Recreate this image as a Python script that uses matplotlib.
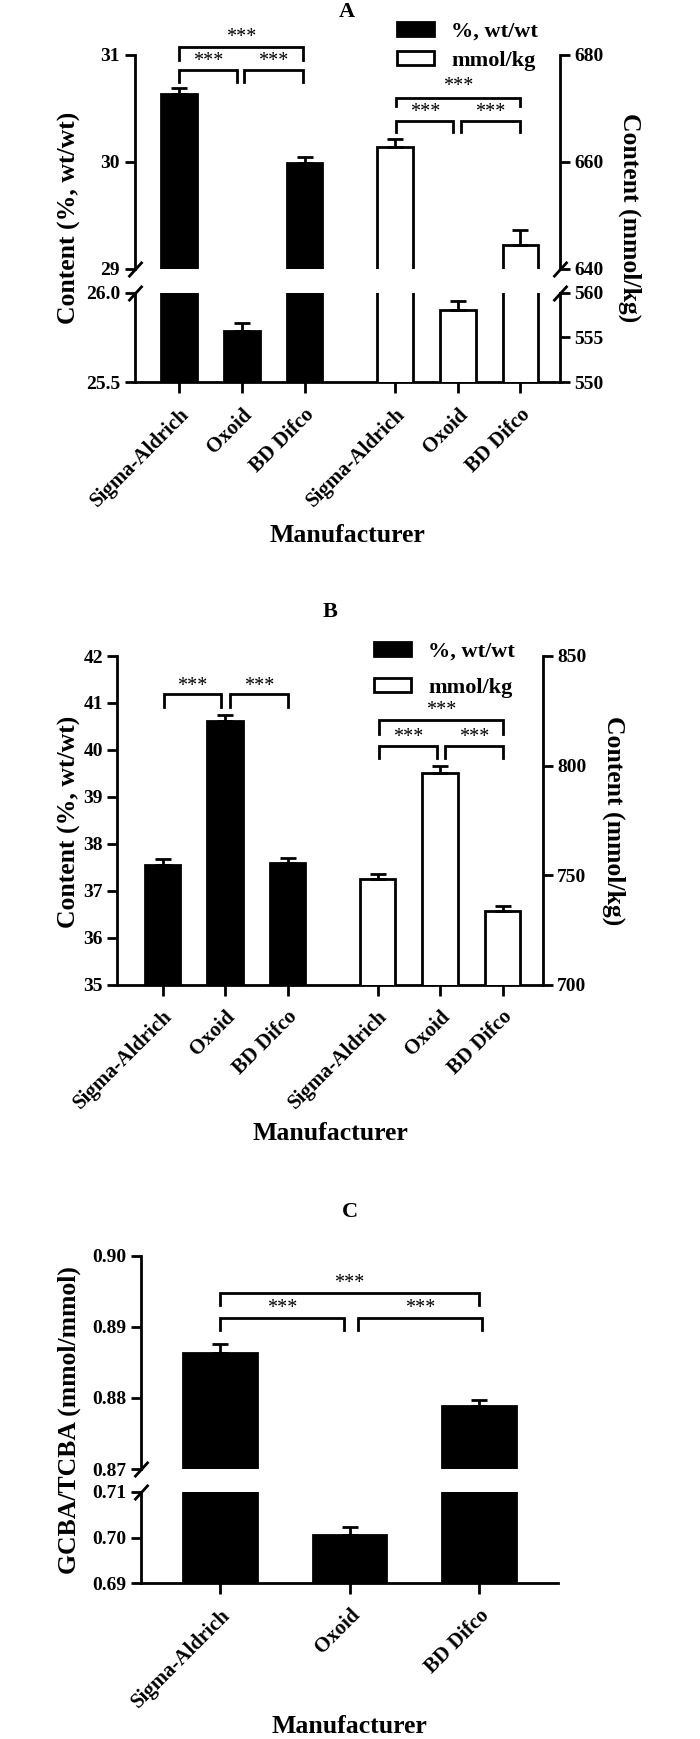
import numpy as np
import matplotlib
matplotlib.use("Agg")
import matplotlib.pyplot as plt
from matplotlib.patches import Patch

plt.rcParams['font.family'] = ['Liberation Serif', 'DejaVu Serif']
plt.rcParams['font.weight'] = 'bold'

# ---------------- data ----------------
manufacturers = ["Sigma-Aldrich", "Oxoid", "BD Difco"]

a_pct = [30.63, 25.786, 29.99]
a_pct_err = [0.06, 0.045, 0.05]
a_mmol = [662.8, 558.1, 644.4]
a_mmol_err = [1.4, 1.0, 2.8]

b_pct = [37.55, 40.61, 37.58]
b_pct_err = [0.13, 0.14, 0.12]
b_mmol = [748.1, 796.8, 733.5]
b_mmol_err = [2.5, 3.1, 2.4]

c_ratio = [0.8863, 0.7006, 0.8788]
c_ratio_err = [0.0013, 0.0016, 0.0009]

legend_labels = ["%, wt/wt", "mmol/kg"]
sig_text = "***"

W, H = 700, 1739
fig = plt.figure(figsize=(W / 100, H / 100), dpi=100)

LW = 2.0
TICK_FS = 14
XT_FS = 15
LAB_FS = 18.5
TITLE_FS = 16
STAR_FS = 14.5
LEG_FS = 16


def px_axes(x0, x1, ytop, ybot):
    return fig.add_axes([x0 / W, 1 - ybot / H, (x1 - x0) / W, (ybot - ytop) / H])


def style(ax, left=False, right=False, bottom=False):
    for s in ['top', 'left', 'right', 'bottom']:
        ax.spines[s].set_visible(False)
        ax.spines[s].set_linewidth(LW)
    ax.spines['left'].set_visible(left)
    ax.spines['right'].set_visible(right)
    ax.spines['bottom'].set_visible(bottom)
    ax.tick_params(axis='y', direction='out', length=7, width=LW, labelsize=TICK_FS,
                   left=left, labelleft=left, right=right, labelright=right)
    ax.tick_params(axis='x', direction='out', length=8, width=LW, labelsize=XT_FS,
                   bottom=bottom, labelbottom=bottom, top=False)
    ax.patch.set_visible(False)


def bars(ax, x, vals, errs, face):
    ax.bar(x, vals, width=0.57, color=face, edgecolor='k', linewidth=LW, zorder=2)
    ax.errorbar(x, vals, yerr=[np.zeros(len(vals)), errs], fmt='none', ecolor='k',
                elinewidth=LW, capsize=6, capthick=LW, zorder=3)


def bracket(ax, x1, x2, y, leg, text, dy_text):
    ax.plot([x1, x1, x2, x2], [y - leg, y, y, y - leg], color='k', lw=LW,
            clip_on=False, solid_joinstyle='miter', zorder=5)
    ax.text((x1 + x2) / 2, y + dy_text, text, ha='center', va='center',
            fontsize=STAR_FS, fontweight='normal', clip_on=False)


def slash(ax, xa, ya):
    ax.plot([xa], [ya], transform=ax.transAxes, marker=[(-1, -1.1), (1, 1.1)],
            markersize=11, linestyle='none', color='k', mec='k', mew=LW, clip_on=False,
            zorder=10)


# ================= Panel A =================
xb = np.arange(3)
xw = np.arange(3) + 3.44
xlimA = (-0.71, 6.07)

aTL = px_axes(134.5, 560, 54.6, 268.5)
aTR = aTL.twinx()
aBL = px_axes(134.5, 560, 292.5, 382.3)
aBR = aBL.twinx()

for ax in (aTL, aTR, aBL, aBR):
    ax.set_xlim(*xlimA)

aTL.set_ylim(29, 31)
aTR.set_ylim(640, 680)
aBL.set_ylim(25.5, 26.0)
aBR.set_ylim(550, 560)

bars(aTL, xb, a_pct, a_pct_err, 'k')
bars(aBL, xb, a_pct, a_pct_err, 'k')
bars(aTR, xw, a_mmol, a_mmol_err, 'w')
bars(aBR, xw, a_mmol, a_mmol_err, 'w')

style(aTL, left=True)
style(aTR, right=True)
style(aBL, left=True, bottom=True)
style(aBR, right=True)

aTL.set_yticks([29, 30, 31])
aTR.set_yticks([640, 660, 680])
aBL.set_yticks([25.5, 26.0])
aBL.set_yticklabels(["25.5", "26.0"])
aBR.set_yticks([550, 555, 560])
aBL.set_xticks(np.concatenate([xb, xw]))
aBL.set_xticklabels(manufacturers + manufacturers, rotation=45, ha='right',
                    rotation_mode='anchor', fontsize=XT_FS)
aBL.tick_params(axis='x', pad=8)
aBR.tick_params(axis='x', bottom=False, labelbottom=False)

slash(aTL, 0, 0)
slash(aBL, 0, 1)
slash(aTR, 1, 0)
slash(aBR, 1, 1)

bracket(aTL, 0, 1.97, 31.074, 0.128, sig_text, 0.09)
bracket(aTL, 0, 0.92, 30.856, 0.111, sig_text, 0.075)
bracket(aTL, 1.04, 1.97, 30.856, 0.111, sig_text, 0.075)
bracket(aTR, 3.46, 5.43, 671.95, 1.6, sig_text, 2.0)
bracket(aTR, 3.46, 4.37, 667.5, 2.0, sig_text, 1.7)
bracket(aTR, 4.5, 5.43, 667.5, 2.0, sig_text, 1.7)

fig.text(347 / W, 1 - 12 / H, "A", ha='center', va='center', fontsize=TITLE_FS)
fig.text(69 / W, 1 - 218 / H, "Content (%, wt/wt)", rotation=90, ha='center',
         va='center', fontsize=LAB_FS)
fig.text(630 / W, 1 - 218 / H, "Content (mmol/kg)", rotation=270, ha='center',
         va='center', fontsize=LAB_FS)
fig.text(347 / W, 1 - 535 / H, "Manufacturer", ha='center', va='center', fontsize=LAB_FS)

handles = [Patch(facecolor='k', edgecolor='k', linewidth=LW),
           Patch(facecolor='w', edgecolor='k', linewidth=LW)]
fig.legend(handles, legend_labels, loc='upper left',
           bbox_to_anchor=(397 / W, 1 - 22 / H), frameon=False, fontsize=LEG_FS,
           handlelength=1.65, handleheight=0.6, handletextpad=0.8,
           labelspacing=0.4, borderpad=0, borderaxespad=0)

# ================= Panel B =================
xlimB = (-0.72, 6.08)
bL = px_axes(117.5, 542.6, 656, 984.5)
bR = bL.twinx()
bL.set_xlim(*xlimB)
bL.set_ylim(35, 42)
bR.set_ylim(700, 850)
bars(bL, xb, b_pct, b_pct_err, 'k')
bars(bR, xw, b_mmol, b_mmol_err, 'w')
style(bL, left=True, bottom=True)
style(bR, right=True)
bL.set_yticks(np.arange(35, 43, 1))
bR.set_yticks([700, 750, 800, 850])
bL.set_xticks(np.concatenate([xb, xw]))
bL.set_xticklabels(manufacturers + manufacturers, rotation=45, ha='right',
                   rotation_mode='anchor', fontsize=XT_FS)
bL.tick_params(axis='x', pad=8)
bR.tick_params(axis='x', bottom=False, labelbottom=False)

bracket(bL, 0.02, 0.94, 41.19, 0.28, sig_text, 0.15)
bracket(bL, 1.08, 2.0, 41.19, 0.28, sig_text, 0.15)
bracket(bR, 3.46, 5.45, 820.6, 6.3, sig_text, 4.3)
bracket(bR, 3.46, 4.39, 808.9, 5.6, sig_text, 4.1)
bracket(bR, 4.52, 5.45, 808.9, 5.6, sig_text, 4.1)

fig.text(330 / W, 1 - 612 / H, "B", ha='center', va='center', fontsize=TITLE_FS)
fig.text(69 / W, 1 - 822 / H, "Content (%, wt/wt)", rotation=90, ha='center',
         va='center', fontsize=LAB_FS)
fig.text(614 / W, 1 - 821 / H, "Content (mmol/kg)", rotation=270, ha='center',
         va='center', fontsize=LAB_FS)
fig.text(330 / W, 1 - 1134 / H, "Manufacturer", ha='center', va='center', fontsize=LAB_FS)

fig.legend(handles, legend_labels, loc='upper left',
           bbox_to_anchor=(374 / W, 1 - 642 / H), frameon=False, fontsize=LEG_FS,
           handlelength=1.65, handleheight=0.6, handletextpad=0.8,
           labelspacing=0.7, borderpad=0, borderaxespad=0)

# ================= Panel C =================
xlimC = (-0.61, 2.61)
cT = px_axes(141, 558, 1255.7, 1469)
cB = px_axes(141, 558, 1492, 1583)
for ax in (cT, cB):
    ax.set_xlim(*xlimC)
cT.set_ylim(0.87, 0.90)
cB.set_ylim(0.69, 0.71)
bars(cT, xb, c_ratio, c_ratio_err, 'k')
bars(cB, xb, c_ratio, c_ratio_err, 'k')
style(cT, left=True)
style(cB, left=True, bottom=True)
cT.set_yticks([0.87, 0.88, 0.89, 0.90])
cT.set_yticklabels(["0.87", "0.88", "0.89", "0.90"])
cB.set_yticks([0.69, 0.70, 0.71])
cB.set_yticklabels(["0.69", "0.70", "0.71"])
cB.set_xticks(xb)
cB.set_xticklabels(manufacturers, rotation=45, ha='right', rotation_mode='anchor',
                   fontsize=XT_FS)
cB.tick_params(axis='x', pad=8)
slash(cT, 0, 0)
slash(cB, 0, 1)

bracket(cT, 0, 2.0, 0.89472, 0.0016, sig_text, 0.0013)
bracket(cT, 0, 0.955, 0.89128, 0.0017, sig_text, 0.0013)
bracket(cT, 1.065, 2.02, 0.89128, 0.0017, sig_text, 0.0013)

fig.text(349.5 / W, 1 - 1212 / H, "C", ha='center', va='center', fontsize=TITLE_FS)
fig.text(69 / W, 1 - 1420 / H, "GCBA/TCBA (mmol/mmol)", rotation=90, ha='center',
         va='center', fontsize=LAB_FS)
fig.text(349.5 / W, 1 - 1738 / H, "Manufacturer", ha='center', va='bottom', fontsize=LAB_FS)

fig.savefig("out.png", dpi=100, facecolor='white')
